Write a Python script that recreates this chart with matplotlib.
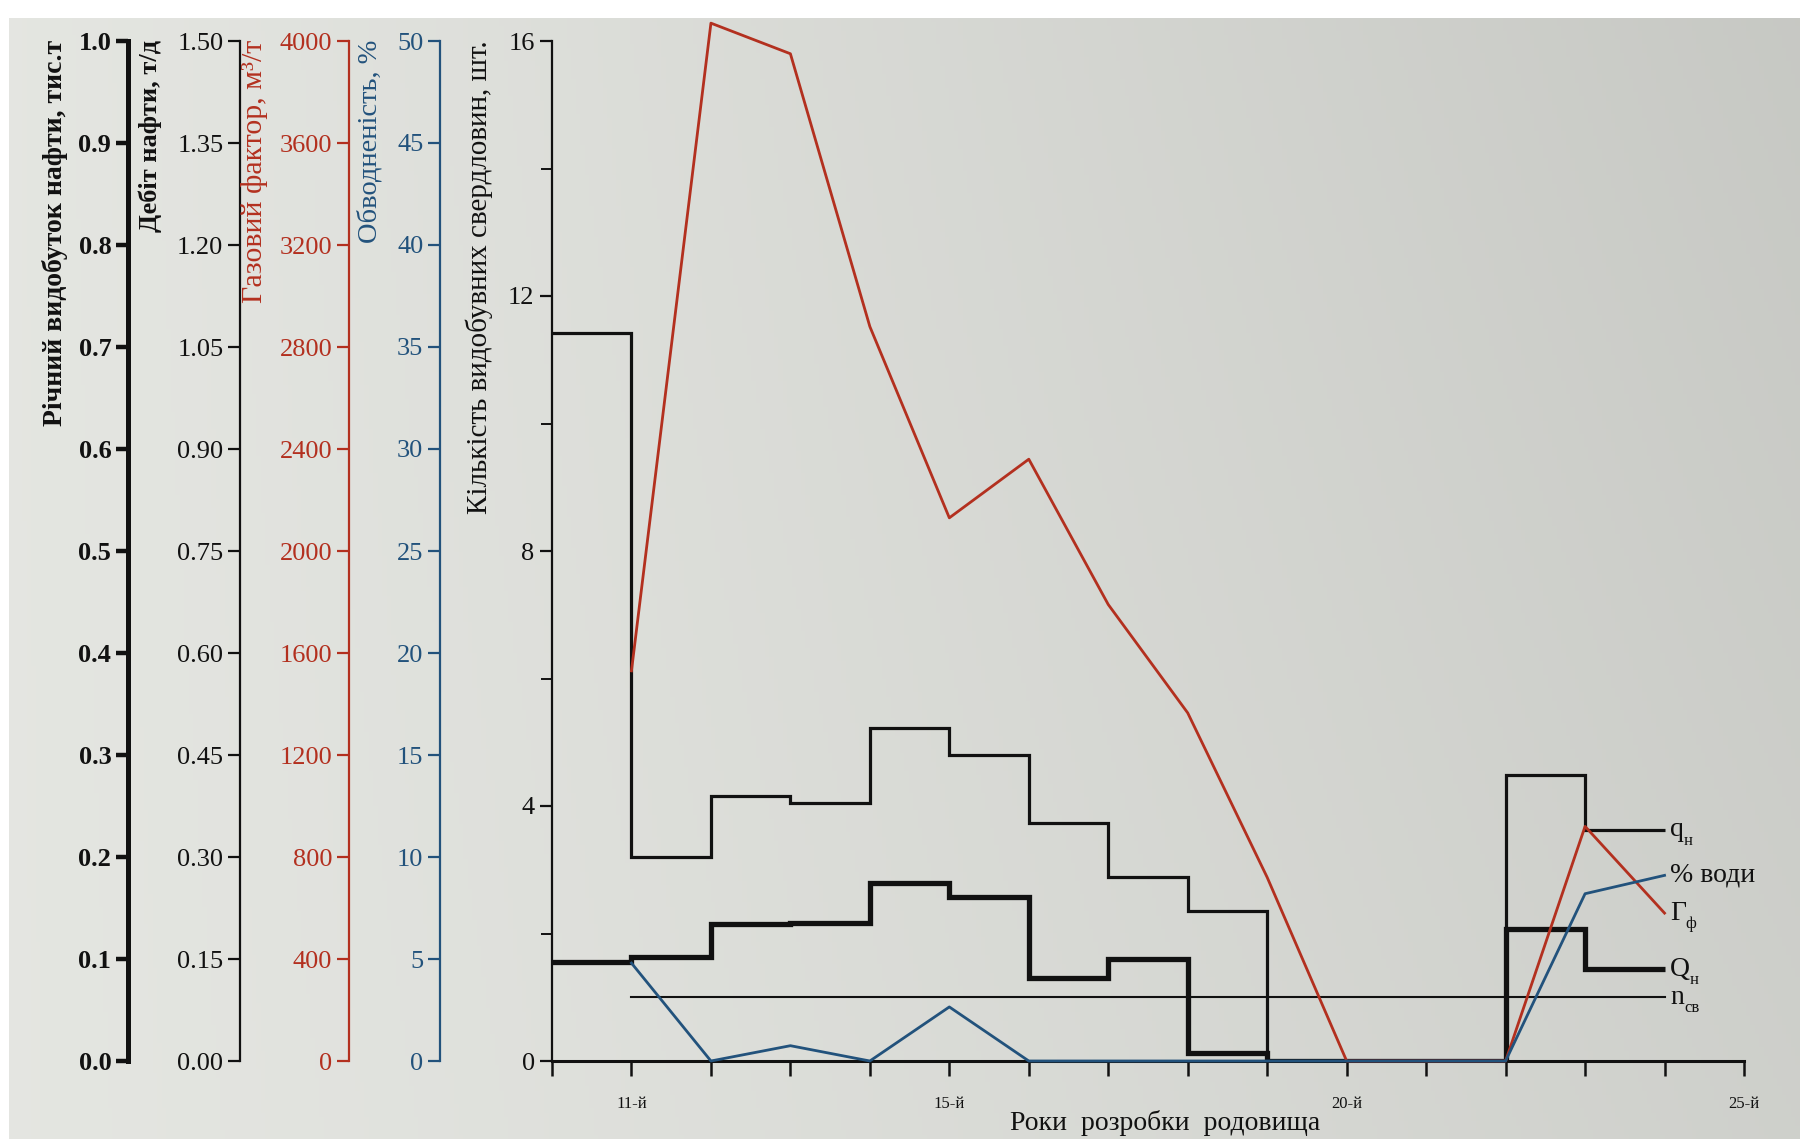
import numpy as np
import matplotlib
matplotlib.use("Agg")
import matplotlib.pyplot as plt
from matplotlib.ticker import FixedLocator, FormatStrFormatter

plt.rcParams["font.family"] = ["Liberation Serif", "DejaVu Serif"]

# ─── Дані ────────────────────────────────────────────────────────────────────
# межі років для ступінчастих рядів (інтервали 10-11 ... 23-24)
year_edges = np.arange(10, 25)
# річний видобуток нафти, тис.т
q_year = [0.097, 0.102, 0.134, 0.135, 0.175, 0.161, 0.081, 0.100, 0.008,
          0.0, 0.0, 0.0, 0.129, 0.090]
# дебіт нафти, т/д
q_rate = [1.07, 0.30, 0.39, 0.38, 0.49, 0.45, 0.35, 0.27, 0.22,
          0.0, 0.0, 0.0, 0.42, 0.34]

# точкові ряди по роках 11 ... 24
years_pts = np.arange(11, 25)
gas_factor = [1530, 4070, 3950, 2880, 2130, 2360, 1790, 1365, 720,
              0, 0, 0, 920, 580]
water_cut = [4.8, 0.0, 0.75, 0.0, 2.65, 0.0, 0.0, 0.0, 0.0,
             0.0, 0.0, 0.0, 8.2, 9.1]
n_wells = [1] * len(years_pts)

x_ticks = list(range(10, 26))
x_labels = {11: "11-й", 15: "15-й", 20: "20-й", 25: "25-й"}

RED = "#b3301f"
BLUE = "#22527c"
INK = "#111111"

# ─── Полотно ─────────────────────────────────────────────────────────────────
fig = plt.figure(figsize=(18, 11.39), dpi=100)

# фон паперу: світліший зліва, сіріший справа
bg = fig.add_axes([0, 0, 1, 1], zorder=-10)
gx = np.linspace(0, 1, 400)
gy = np.linspace(0, 1, 260)[:, None]
shade = 0.895 - 0.085 * gx[None, :] ** 1.2 - 0.03 * (1 - gy) * gx[None, :]
img = np.dstack([shade, shade + 0.006, shade - 0.012])
img = np.clip(img, 0, 1)
img[:4, :, :] = 1.0            # біла смуга зверху
img[:, :2, :] = 1.0            # біла смуга зліва
bg.imshow(img, aspect="auto", extent=[0, 1, 0, 1], origin="upper")
bg.axis("off")

L, R = 552 / 1800, 1744 / 1800
B, T = 1 - 1061 / 1139, 1 - 41 / 1139
ax = fig.add_axes([L, B, R - L, T - B])
ax.patch.set_visible(False)
ax.set_xlim(10, 25)
ax.set_ylim(0, 16)
for s in ("top", "right"):
    ax.spines[s].set_visible(False)
ax.spines["bottom"].set_linewidth(2.2)
ax.spines["left"].set_linewidth(1.6)
ax.spines["bottom"].set_color(INK)
ax.spines["left"].set_color(INK)

ax.set_xticks(x_ticks)
ax.set_xticklabels([x_labels.get(t, "") for t in x_ticks], fontsize=12)
ax.tick_params(axis="x", direction="out", length=11, width=1.8, pad=14, colors=INK)
ax.set_yticks([0, 4, 8, 12, 16])
ax.yaxis.set_minor_locator(FixedLocator([2, 6, 10, 14]))
ax.tick_params(axis="y", which="major", direction="out", length=9, width=1.6,
               labelsize=19, colors=INK)
ax.tick_params(axis="y", which="minor", direction="out", length=8, width=1.4, colors=INK)


def side_axis(pos, lim, ticks, fmt, color, spine_w=1.6, tick_w=1.6, weight="normal"):
    tw = ax.twinx()
    tw.patch.set_visible(False)
    for s in ("right", "top", "bottom"):
        tw.spines[s].set_visible(False)
    tw.spines["left"].set_visible(True)
    tw.spines["left"].set_position(("axes", pos))
    tw.spines["left"].set_linewidth(spine_w)
    tw.spines["left"].set_color(color)
    tw.yaxis.set_ticks_position("left")
    tw.yaxis.set_label_position("left")
    tw.set_ylim(*lim)
    tw.set_yticks(ticks)
    tw.yaxis.set_major_formatter(FormatStrFormatter(fmt))
    tw.tick_params(axis="y", direction="out", length=9, width=tick_w,
                   labelsize=19, colors=color, pad=3)
    for lab in tw.get_yticklabels():
        lab.set_fontweight(weight)
    return tw


width_px = 1744 - 552
ax_q = side_axis((128 - 552) / width_px, (0, 1.0), np.linspace(0, 1.0, 11), "%.1f",
                 INK, spine_w=3.6, tick_w=3.2, weight="bold")
ax_r = side_axis((240 - 552) / width_px, (0, 1.5), np.linspace(0, 1.5, 11), "%.2f", INK)
ax_g = side_axis((349 - 552) / width_px, (0, 4000), np.arange(0, 4001, 400), "%d", RED)
ax_w = side_axis((440 - 552) / width_px, (0, 50), np.arange(0, 51, 5), "%d", BLUE)

# ─── Ряди ────────────────────────────────────────────────────────────────────
ax_r.stairs(q_rate, year_edges, baseline=None, color=INK, linewidth=2.3)
ax_q.stairs(q_year, year_edges, baseline=None, color=INK, linewidth=3.8)
ax.plot(years_pts, n_wells, color=INK, linewidth=1.5)
ax_g.plot(years_pts, gas_factor, color=RED, linewidth=2.0, clip_on=False)
ax_w.plot(years_pts, water_cut, color=BLUE, linewidth=2.0, clip_on=False)


def end_label(axis, y, main, sub, sub_dx):
    axis.annotate(main, (24, y), xytext=(4, 0), textcoords="offset points",
                  ha="left", va="center", fontsize=20, color=INK)
    if sub:
        axis.annotate(sub, (24, y), xytext=(4 + sub_dx, -8), textcoords="offset points",
                      ha="left", va="center", fontsize=12, color=INK)


end_label(ax_r, q_rate[-1], "q", "н", 10)
end_label(ax_w, water_cut[-1], "% води", "", 0)
end_label(ax_g, gas_factor[-1], "Г", "ф", 11)
end_label(ax_q, q_year[-1], "Q", "н", 14)
end_label(ax, n_wells[-1], "n", "св", 10)

# ─── Підписи осей ────────────────────────────────────────────────────────────
ylabels = [
    (55, "Річний видобуток нафти, тис.т", INK, "bold", 20),
    (150, "Дебіт нафти, т/д", INK, "bold", 19),
    (255, "Газовий фактор, м³/т", RED, "normal", 21.5),
    (370, "Обводненість, %", BLUE, "normal", 20.5),
    (479, "Кількість видобувних свердловин, шт.", INK, "normal", 21),
]
for x_px, text, color, weight, size in ylabels:
    fig.text(x_px / 1800, 1 - 40 / 1139, text, rotation=90, ha="center", va="top",
             fontsize=size, color=color, fontweight=weight)

fig.text(1165 / 1800, 1 - 1123 / 1139, "Роки  розробки  родовища", ha="center",
         va="center", fontsize=20, color=INK)

fig.savefig("out.png", dpi=100)
